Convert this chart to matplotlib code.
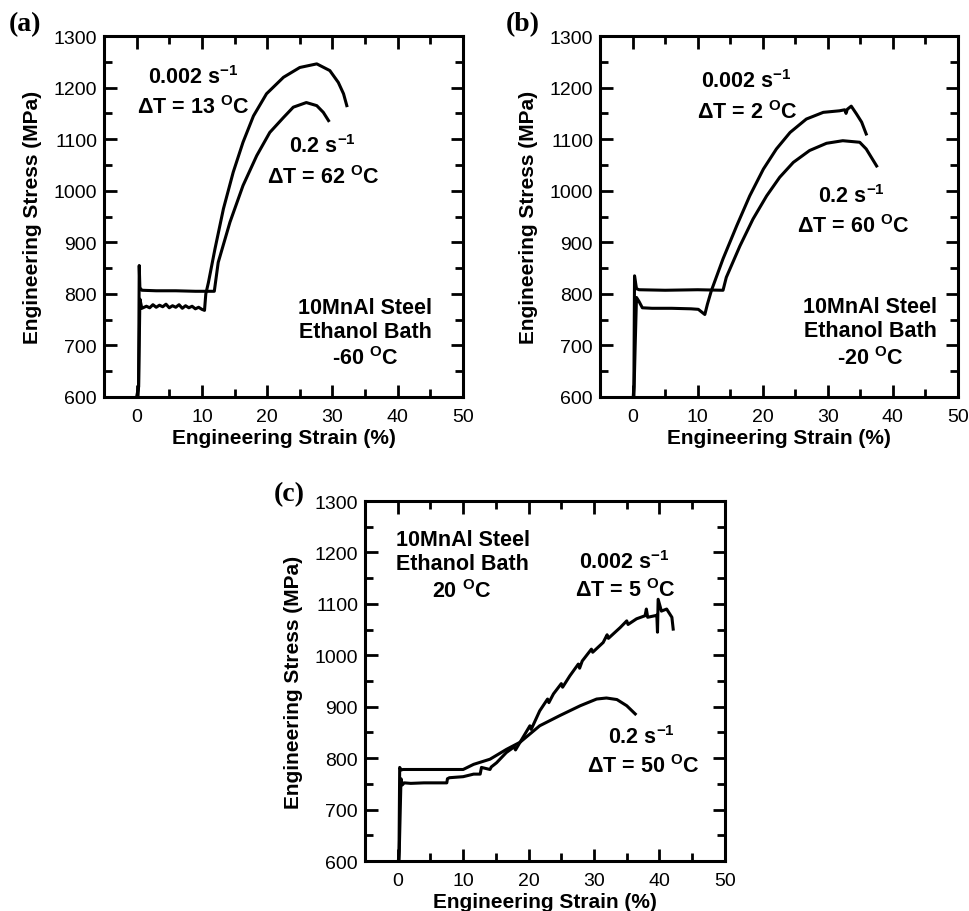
import matplotlib
matplotlib.use("Agg")
import matplotlib.pyplot as plt
from matplotlib.ticker import MultipleLocator

plt.rcParams["font.family"] = ["Liberation Sans", "DejaVu Sans"]
plt.rcParams["mathtext.fontset"] = "custom"
plt.rcParams["mathtext.rm"] = "Liberation Sans"
plt.rcParams["mathtext.bf"] = "Liberation Sans:bold"

# ---- (a) Ethanol bath -60 C ----
a_slow_x = [0.0, 0.3, 0.4, 0.5, 0.8, 1.5, 2.0, 2.5, 3.0, 3.5, 4.0, 4.5, 5.0, 5.5, 6.0, 6.5,
            7.0, 7.5, 8.0, 8.5, 9.0, 9.5, 10.0, 10.4, 10.6, 11.0, 12.0, 13.3, 14.8, 16.3,
            17.9, 19.9, 22.5, 25.0, 27.6, 29.6, 30.9, 31.7, 32.2]
a_slow_y = [600, 620, 700, 790, 772, 776, 773, 779, 774, 778, 775, 780, 773, 777, 774, 779,
            772, 777, 773, 776, 771, 774, 770, 768, 800, 822, 887, 965, 1036, 1094,
            1145, 1188, 1220, 1239, 1246, 1233, 1210, 1188, 1165]
a_fast_x = [0.2, 0.3, 0.4, 0.5, 0.8, 3.0, 6.0, 9.0, 11.9, 12.5, 14.3, 16.3, 18.4, 20.4,
            22.5, 24.0, 26.0, 27.6, 28.6, 29.4]
a_fast_y = [600, 620, 855, 812, 807, 806, 806, 805, 805, 861, 939, 1010, 1068, 1113,
            1142, 1162, 1171, 1165, 1152, 1136]

# ---- (b) Ethanol bath -20 C ----
b_slow_x = [0.2, 0.4, 0.6, 1.0, 1.5, 3.0, 6.0, 9.0, 10.1, 11.1, 11.5, 12.1, 13.9, 16.0,
            18.0, 20.1, 22.1, 24.2, 26.7, 29.3, 31.8, 32.6, 32.8, 33.0, 33.6, 34.4, 35.2, 35.9]
b_slow_y = [600, 700, 793, 785, 773, 772, 772, 771, 770, 760, 780, 806, 868, 932,
            990, 1042, 1081, 1113, 1139, 1152, 1155, 1157, 1150, 1158, 1164, 1149, 1133, 1110]
b_fast_x = [0.1, 0.2, 0.3, 0.6, 1.0, 5.0, 10.0, 13.9, 14.4, 16.5, 18.5, 20.6, 22.6, 24.7,
            27.2, 29.8, 32.3, 34.9, 35.9, 37.5]
b_fast_y = [600, 620, 835, 810, 808, 807, 808, 807, 832, 893, 945, 990, 1026, 1055,
            1078, 1092, 1097, 1094, 1081, 1048]

# ---- (c) Ethanol bath 20 C ----
c_slow_x = [0.2, 0.5, 0.7, 1.0, 2.0, 4.0, 7.5, 7.6, 7.9, 10.0, 11.6, 12.6, 12.8, 14.1,
            14.3, 15.1, 16.6, 17.8, 18.0, 18.7, 20.2, 20.4, 21.7, 22.9, 23.1, 23.8, 25.0,
            25.2, 26.3, 27.6, 27.8, 28.2, 29.6, 29.8, 31.4, 32.0, 32.2, 34.0, 35.0, 35.2,
            36.5, 37.8, 38.0, 38.2, 39.3, 39.6, 39.7, 39.8, 40.3, 41.1, 41.9, 42.1]
c_slow_y = [600, 760, 748, 752, 751, 752, 752, 760, 762, 764, 769, 769, 782, 778,
            783, 791, 811, 822, 816, 831, 863, 856, 892, 915, 908, 925, 945,
            938, 960, 983, 975, 989, 1012, 1006, 1025, 1040, 1033, 1054, 1067, 1060,
            1071, 1077, 1090, 1074, 1077, 1078, 1045, 1109, 1086, 1090, 1074, 1051]
c_fast_x = [0.1, 0.2, 0.3, 0.5, 0.8, 3.0, 6.0, 10.0, 11.6, 14.1, 16.6, 18.7, 21.7, 24.8,
            27.9, 30.4, 31.9, 33.5, 35.0, 36.3]
c_fast_y = [600, 620, 782, 777, 778, 778, 778, 778, 788, 798, 817, 831, 863, 883,
            902, 915, 917, 914, 902, 886]

SUP1 = r"$^{\mathbf{-1}}$"
SUPO = r"$^{\mathbf{O}}$"

fig = plt.figure(figsize=(9.7, 9.12), dpi=100)

panels = [
    dict(rect=[0.1072, 0.5636, 0.3701, 0.3958], tag="(a)", tagpos=(0.026, 0.973),
         curves=[(a_slow_x, a_slow_y), (a_fast_x, a_fast_y)],
         texts=[(8.7, 1222, "0.002 s" + SUP1), (8.7, 1163, "ΔT = 13 " + SUPO + "C"),
                (28.4, 1087, "0.2 s" + SUP1), (28.6, 1028, "ΔT = 62 " + SUPO + "C"),
                (35.0, 773, "10MnAl Steel"), (35.0, 727, "Ethanol Bath"),
                (35.0, 676, "-60 " + SUPO + "C")]),
    dict(rect=[0.6186, 0.5636, 0.3690, 0.3958], tag="(b)", tagpos=(0.539, 0.973),
         curves=[(b_slow_x, b_slow_y), (b_fast_x, b_fast_y)],
         texts=[(17.5, 1213, "0.002 s" + SUP1), (17.6, 1154, "ΔT = 2 " + SUPO + "C"),
                (33.7, 990, "0.2 s" + SUP1), (33.9, 932, "ΔT = 60 " + SUPO + "C"),
                (36.5, 776, "10MnAl Steel"), (36.5, 728, "Ethanol Bath"),
                (36.5, 676, "-20 " + SUPO + "C")]),
    dict(rect=[0.3763, 0.0548, 0.3710, 0.3947], tag="(c)", tagpos=(0.298, 0.458),
         curves=[(c_slow_x, c_slow_y), (c_fast_x, c_fast_y)],
         texts=[(9.9, 1225, "10MnAl Steel"), (9.9, 1179, "Ethanol Bath"),
                (9.8, 1125, "20 " + SUPO + "C"),
                (34.7, 1183, "0.002 s" + SUP1), (34.8, 1128, "ΔT = 5 " + SUPO + "C"),
                (37.3, 843, "0.2 s" + SUP1), (37.5, 785, "ΔT = 50 " + SUPO + "C")]),
]

for p in panels:
    ax = fig.add_axes(p["rect"])
    for xs, ys in p["curves"]:
        ax.plot(xs, ys, color="black", lw=2.2, solid_joinstyle="round")
    ax.set_xlim(-5, 50)
    ax.set_ylim(600, 1300)
    ax.xaxis.set_major_locator(MultipleLocator(10))
    ax.xaxis.set_minor_locator(MultipleLocator(5))
    ax.yaxis.set_major_locator(MultipleLocator(100))
    ax.yaxis.set_minor_locator(MultipleLocator(50))
    ax.tick_params(which="both", direction="in", top=True, right=True, width=2.0,
                   labelsize=14)
    ax.tick_params(axis="x", which="both", pad=8)
    ax.tick_params(axis="y", which="both", pad=5)
    ax.tick_params(which="major", length=9)
    ax.tick_params(which="minor", length=5.5)
    for s in ax.spines.values():
        s.set_linewidth(2.2)
    ax.set_xlabel("Engineering Strain (%)", fontsize=15, fontweight="bold", labelpad=2)
    ax.set_ylabel("Engineering Stress (MPa)", fontsize=15, fontweight="bold", labelpad=8)
    for x, y, t in p["texts"]:
        ax.text(x, y, t, ha="center", va="center", fontsize=15.5, fontweight="bold")
    fig.text(p["tagpos"][0], p["tagpos"][1], p["tag"], ha="center", va="center",
             fontsize=20, fontweight="bold", family="Liberation Serif")

fig.savefig("out.png", dpi=100)
